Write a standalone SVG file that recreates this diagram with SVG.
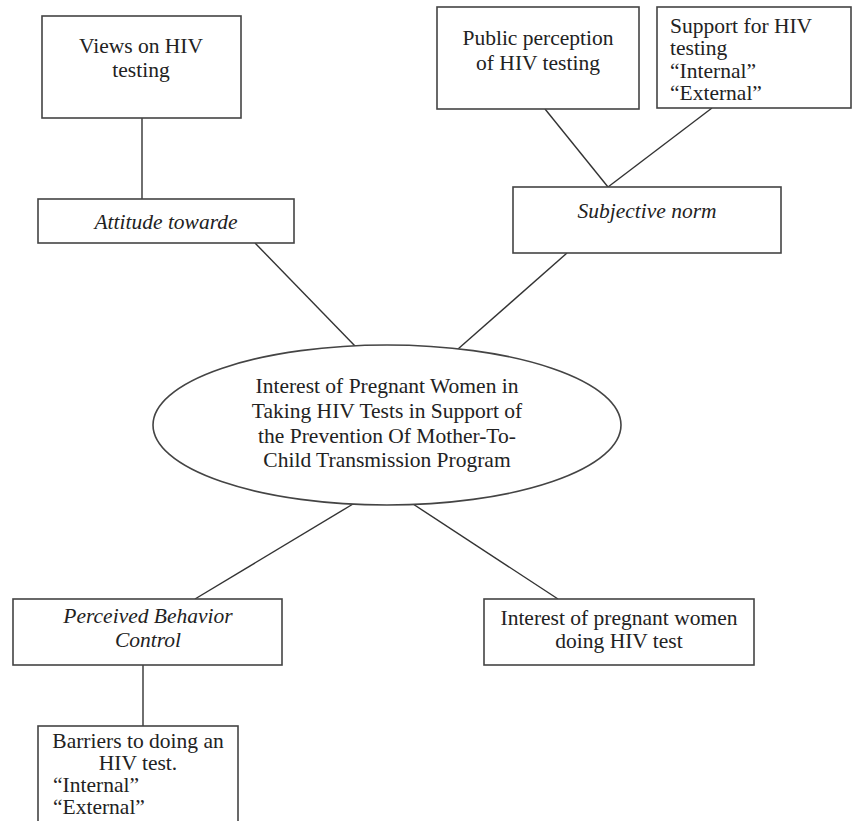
<svg xmlns="http://www.w3.org/2000/svg" width="854" height="821" viewBox="0 0 854 821">
<style>
.box{fill:#fff;stroke:#444;stroke-width:1.6}
.ln{stroke:#333;stroke-width:1.4;fill:none}
text{font-family:"Liberation Serif","Times New Roman",serif;font-size:21.5px;fill:#222}
.c{text-anchor:middle}
.i{font-style:italic}
</style>
<rect width="854" height="821" fill="#fff"/>
<g id="connectors">
<line class="ln" x1="142" y1="118" x2="142" y2="199"/>
<line class="ln" x1="545" y1="109" x2="608" y2="187"/>
<line class="ln" x1="712" y1="108" x2="608" y2="187"/>
<line class="ln" x1="255" y1="243" x2="355" y2="346"/>
<line class="ln" x1="567" y1="253" x2="458" y2="349"/>
<line class="ln" x1="353" y1="504" x2="195" y2="599"/>
<line class="ln" x1="413" y1="504" x2="558" y2="599"/>
<line class="ln" x1="143" y1="665" x2="143" y2="726"/>
</g>
<g id="views">
<rect class="box" x="42" y="16" width="199" height="102"/>
<text class="c" x="141" y="53">Views on HIV</text>
<text class="c" x="141" y="77">testing</text>
</g>
<g id="public">
<rect class="box" x="437" y="7" width="202" height="102"/>
<text class="c" x="538" y="45">Public perception</text>
<text class="c" x="538" y="70">of HIV testing</text>
</g>
<g id="support">
<rect class="box" x="657" y="7" width="194" height="101"/>
<text x="670" y="33">Support for HIV</text>
<text x="670" y="55">testing</text>
<text x="670" y="78">“Internal”</text>
<text x="670" y="100">“External”</text>
</g>
<g id="attitude">
<rect class="box" x="38" y="199" width="256" height="44"/>
<text class="c i" x="166" y="229">Attitude towarde</text>
</g>
<g id="subjective">
<rect class="box" x="513" y="187" width="268" height="66"/>
<text class="c i" x="647" y="218">Subjective norm</text>
</g>
<g id="center">
<ellipse class="box" cx="387" cy="425" rx="234" ry="80"/>
<text class="c" x="387" y="393">Interest of Pregnant Women in</text>
<text class="c" x="387" y="418">Taking HIV Tests in Support of</text>
<text class="c" x="387" y="443">the Prevention Of Mother-To-</text>
<text class="c" x="387" y="467">Child Transmission Program</text>
</g>
<g id="perceived">
<rect class="box" x="13" y="599" width="269" height="66"/>
<text class="c i" x="148" y="623">Perceived Behavior</text>
<text class="c i" x="148" y="647">Control</text>
</g>
<g id="interest">
<rect class="box" x="484" y="599" width="270" height="66"/>
<text class="c" x="619" y="625">Interest of pregnant women</text>
<text class="c" x="619" y="648">doing HIV test</text>
</g>
<g id="barriers">
<rect class="box" x="38" y="726" width="200" height="110"/>
<text class="c" x="138" y="748">Barriers to doing an</text>
<text class="c" x="138" y="770">HIV test.</text>
<text x="53" y="792">“Internal”</text>
<text x="53" y="814">“External”</text>
</g>
</svg>
